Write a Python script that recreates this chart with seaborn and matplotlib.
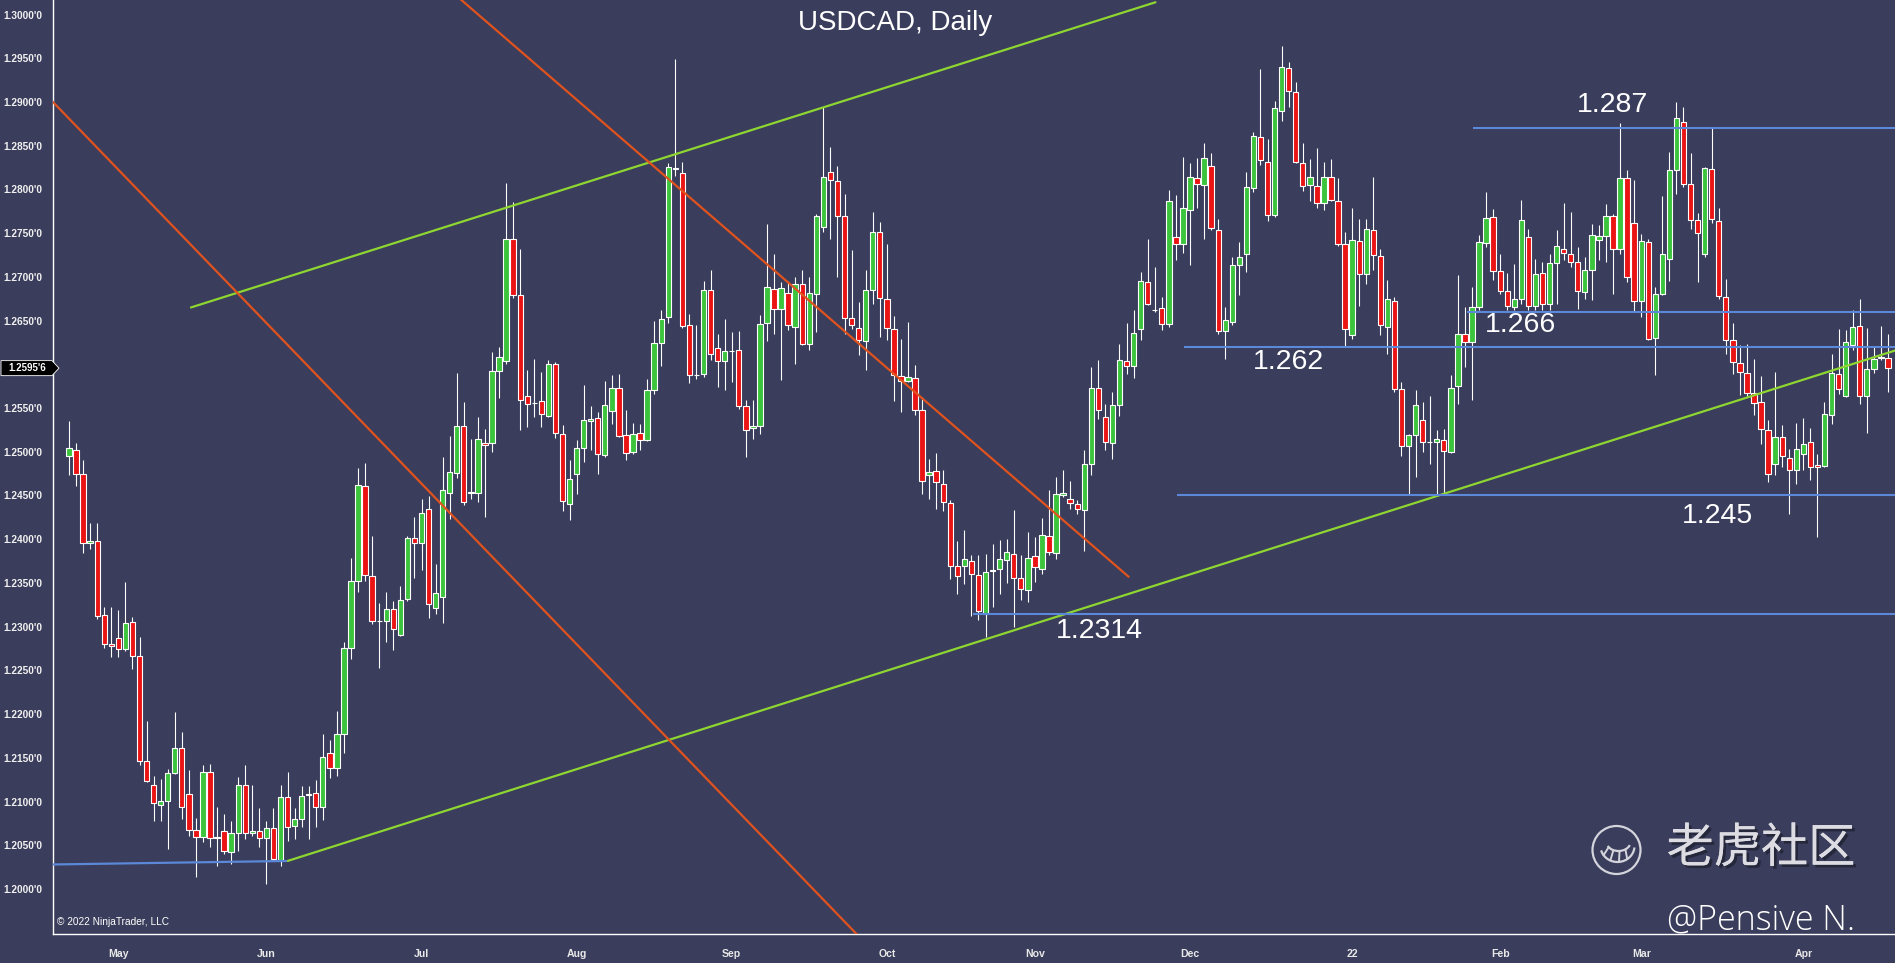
import numpy as np
import pandas as pd
import matplotlib
matplotlib.use("Agg")
import matplotlib.pyplot as plt
import matplotlib.patheffects as pe
from matplotlib.patches import Polygon, Circle, Arc
from matplotlib.transforms import blended_transform_factory, IdentityTransform
import seaborn as sns

# ---------------------------------------------------------------- data
symbol_title = "USDCAD, Daily"
first_session = "2021-04-22"

open_ = [
    1.24955, 1.25023, 1.24749, 1.23960, 1.23982, 1.23135, 1.22799, 1.22872, 1.22746, 1.23051,
    1.22666, 1.21464, 1.21189, 1.20960, 1.21010, 1.21327, 1.21613, 1.21086, 1.20674, 1.20598,
    1.21342, 1.20583, 1.20667, 1.20422, 1.20636, 1.21189, 1.20636, 1.20659, 1.20583, 1.20697,
    1.20331, 1.21048, 1.20718, 1.20798, 1.21075, 1.21097, 1.20937, 1.21560, 1.21384, 1.21773,
    1.22759, 1.23521, 1.24608, 1.23574, 1.23062, 1.23062, 1.23201, 1.22903, 1.23318, 1.24016,
    1.23958, 1.24347, 1.23212, 1.23340, 1.24533, 1.24757, 1.25290, 1.24533, 1.24533, 1.25103,
    1.25103, 1.25918, 1.26036, 1.27437, 1.26798, 1.25638, 1.25556, 1.25581, 1.25409, 1.26008,
    1.25207, 1.24406, 1.24741, 1.25047, 1.25348, 1.25390, 1.24959, 1.25466, 1.25733, 1.25188,
    1.24997, 1.25214, 1.25130, 1.25710, 1.26248, 1.26542, 1.28247, 1.28190, 1.26454, 1.25874,
    1.25893, 1.26855, 1.26191, 1.26038, 1.26153, 1.26168, 1.25520, 1.25272, 1.25290, 1.26477,
    1.26862, 1.26637, 1.26816, 1.26427, 1.26915, 1.26236, 1.26809, 1.27572, 1.28201, 1.28098,
    1.27701, 1.26530, 1.26416, 1.26267, 1.26847, 1.27518, 1.26751, 1.26404, 1.25866, 1.25809,
    1.25847, 1.25481, 1.24737, 1.24779, 1.24634, 1.24417, 1.23688, 1.23699, 1.23749, 1.23593,
    1.23146, 1.23635, 1.23661, 1.23757, 1.23825, 1.23558, 1.23421, 1.23802, 1.23661, 1.24031,
    1.23841, 1.24501, 1.24462, 1.24405, 1.24337, 1.24863, 1.25729, 1.25397, 1.25100, 1.25538,
    1.26038, 1.25977, 1.26408, 1.26942, 1.26618, 1.26648, 1.26458, 1.27457, 1.27381, 1.27770,
    1.28132, 1.28049, 1.28266, 1.27541, 1.26378, 1.26484, 1.27133, 1.27267, 1.28011, 1.28602,
    1.28316, 1.27706, 1.28900, 1.29384, 1.29117, 1.28305, 1.28049, 1.28038, 1.27839, 1.28144,
    1.27870, 1.27374, 1.26332, 1.27412, 1.27031, 1.27534, 1.27236, 1.26428, 1.26725, 1.25722,
    1.25062, 1.25188, 1.25360, 1.25111, 1.25111, 1.25138, 1.24997, 1.25749, 1.26344, 1.26255,
    1.26656, 1.27392, 1.27686, 1.27064, 1.26839, 1.26656, 1.26751, 1.27457, 1.26663, 1.27045,
    1.26686, 1.27159, 1.27323, 1.27259, 1.27171, 1.26827, 1.27083, 1.27426, 1.27465, 1.27693,
    1.27323, 1.28125, 1.27617, 1.26721, 1.27400, 1.26305, 1.26808, 1.27209, 1.28220, 1.28773,
    1.28067, 1.27649, 1.27259, 1.28228, 1.27641, 1.26771, 1.26275, 1.26016, 1.25901, 1.25672,
    1.25569, 1.25245, 1.24856, 1.25169, 1.24932, 1.24787, 1.24978, 1.25112, 1.24845, 1.24833,
    1.25417, 1.25894, 1.25634, 1.26218, 1.26435, 1.25634, 1.25951, 1.26073, 1.26077,
]
high = [
    1.25351, 1.25100, 1.24901, 1.24184, 1.24184, 1.23223, 1.23223, 1.23185, 1.23516, 1.23108,
    1.22879, 1.21926, 1.21296, 1.21258, 1.21372, 1.22029, 1.21792, 1.21361, 1.20808, 1.21422,
    1.21430, 1.20941, 1.20857, 1.20781, 1.21277, 1.21422, 1.21193, 1.20926, 1.20773, 1.20926,
    1.21193, 1.21334, 1.20921, 1.21177, 1.21177, 1.21251, 1.21773, 1.21709, 1.22040, 1.22828,
    1.23787, 1.24810, 1.24874, 1.24032, 1.23265, 1.23398, 1.23292, 1.23462, 1.24032, 1.24251,
    1.24458, 1.24490, 1.23718, 1.24943, 1.25183, 1.25902, 1.25567, 1.25140, 1.25396, 1.25263,
    1.26142, 1.26195, 1.28071, 1.27858, 1.27313, 1.25939, 1.26065, 1.25913, 1.26046, 1.26027,
    1.25302, 1.24909, 1.25138, 1.25760, 1.25520, 1.25455, 1.25810, 1.25874, 1.25886, 1.25481,
    1.25329, 1.25321, 1.25836, 1.26496, 1.26618, 1.28305, 1.29487, 1.28316, 1.26580, 1.26447,
    1.26954, 1.27076, 1.26351, 1.26523, 1.26370, 1.26378, 1.25588, 1.25596, 1.26561, 1.27610,
    1.27266, 1.26942, 1.26942, 1.27000, 1.27083, 1.27000, 1.27724, 1.28940, 1.28487, 1.28266,
    1.27953, 1.27305, 1.26713, 1.27076, 1.27743, 1.27629, 1.27381, 1.26549, 1.26294, 1.26484,
    1.25988, 1.25626, 1.24920, 1.24985, 1.24794, 1.24451, 1.23978, 1.24100, 1.23814, 1.23814,
    1.23833, 1.23947, 1.23986, 1.24005, 1.24329, 1.23814, 1.24081, 1.24024, 1.24245, 1.24565,
    1.24710, 1.24794, 1.24665, 1.24443, 1.25023, 1.25969, 1.26046, 1.25550, 1.25683, 1.26229,
    1.26473, 1.26618, 1.27057, 1.27438, 1.27114, 1.26771, 1.27991, 1.27934, 1.28373, 1.28304,
    1.28354, 1.28533, 1.28419, 1.27667, 1.26656, 1.27228, 1.27401, 1.28202, 1.28659, 1.29373,
    1.28572, 1.29014, 1.29640, 1.29461, 1.29232, 1.28526, 1.28343, 1.28469, 1.28316, 1.28343,
    1.28125, 1.27515, 1.27782, 1.27656, 1.27667, 1.28144, 1.27313, 1.26969, 1.26771, 1.25798,
    1.25207, 1.25703, 1.25569, 1.25634, 1.25245, 1.25264, 1.25875, 1.27019, 1.26657, 1.26885,
    1.27476, 1.27972, 1.27781, 1.27266, 1.27045, 1.27144, 1.27877, 1.27552, 1.27209, 1.27171,
    1.27266, 1.27533, 1.27839, 1.27743, 1.27343, 1.27228, 1.27602, 1.27590, 1.27831, 1.27724,
    1.28762, 1.28220, 1.28106, 1.27495, 1.27438, 1.26885, 1.27922, 1.28430, 1.29002, 1.28945,
    1.28411, 1.27725, 1.28259, 1.28709, 1.27782, 1.26981, 1.26474, 1.26218, 1.26237, 1.26065,
    1.25863, 1.25360, 1.25913, 1.25302, 1.25035, 1.25329, 1.25390, 1.25276, 1.24978, 1.25569,
    1.26115, 1.26409, 1.26397, 1.26619, 1.26752, 1.26420, 1.26199, 1.26435, 1.26352,
]
low = [
    1.24730, 1.24604, 1.23841, 1.23890, 1.23089, 1.22757, 1.22658, 1.22658, 1.22727, 1.22517,
    1.21422, 1.21220, 1.20781, 1.20781, 1.20457, 1.21315, 1.20800, 1.20609, 1.20133, 1.20533,
    1.20476, 1.20266, 1.20400, 1.20285, 1.20438, 1.20571, 1.20609, 1.20476, 1.20056, 1.20323,
    1.20266, 1.20548, 1.20574, 1.20708, 1.20574, 1.20708, 1.20787, 1.21267, 1.21294, 1.21560,
    1.22626, 1.23398, 1.23521, 1.23025, 1.22530, 1.22828, 1.22732, 1.22892, 1.23292, 1.23553,
    1.23649, 1.23095, 1.23148, 1.23041, 1.24235, 1.24704, 1.24394, 1.24464, 1.24426, 1.24251,
    1.24997, 1.25609, 1.26009, 1.26755, 1.25253, 1.25283, 1.25398, 1.25283, 1.25398, 1.25161,
    1.24322, 1.24215, 1.24520, 1.24882, 1.25016, 1.24749, 1.24940, 1.25321, 1.25169, 1.24902,
    1.24978, 1.25024, 1.25123, 1.25665, 1.25977, 1.26473, 1.28152, 1.26420, 1.25787, 1.25836,
    1.25855, 1.26054, 1.25741, 1.25703, 1.25798, 1.25493, 1.24940, 1.25150, 1.25206, 1.26267,
    1.26343, 1.25824, 1.26389, 1.26008, 1.26217, 1.26160, 1.26370, 1.27514, 1.27438, 1.27000,
    1.26351, 1.26408, 1.26103, 1.25931, 1.26694, 1.26313, 1.26275, 1.25580, 1.25454, 1.25798,
    1.25416, 1.24520, 1.24462, 1.24348, 1.24321, 1.23547, 1.23368, 1.23490, 1.23127, 1.23078,
    1.22879, 1.23223, 1.23375, 1.23497, 1.22994, 1.23299, 1.23280, 1.23509, 1.23604, 1.23814,
    1.23776, 1.24482, 1.24348, 1.24291, 1.23864, 1.24730, 1.25378, 1.25016, 1.24920, 1.25405,
    1.25893, 1.25847, 1.26275, 1.26675, 1.26599, 1.26397, 1.26427, 1.27198, 1.27274, 1.27133,
    1.27793, 1.27438, 1.27534, 1.26343, 1.26065, 1.26446, 1.26790, 1.27057, 1.27973, 1.28278,
    1.27641, 1.27679, 1.28785, 1.28946, 1.28305, 1.27984, 1.27870, 1.27793, 1.27770, 1.27870,
    1.27351, 1.26199, 1.26294, 1.26664, 1.26916, 1.27076, 1.26332, 1.26115, 1.25684, 1.24947,
    1.24520, 1.24711, 1.24997, 1.24863, 1.24512, 1.24520, 1.24986, 1.25543, 1.25970, 1.25595,
    1.26618, 1.27343, 1.26961, 1.26808, 1.26625, 1.26618, 1.26694, 1.26618, 1.26625, 1.26618,
    1.26625, 1.26694, 1.27190, 1.27114, 1.26637, 1.26751, 1.26732, 1.27190, 1.27171, 1.26808,
    1.27266, 1.26942, 1.26599, 1.26541, 1.26274, 1.25874, 1.26789, 1.26953, 1.27953, 1.28029,
    1.27552, 1.26943, 1.27229, 1.27618, 1.26741, 1.26123, 1.25886, 1.25646, 1.25634, 1.25417,
    1.25093, 1.24654, 1.24730, 1.24826, 1.24291, 1.24635, 1.24787, 1.24673, 1.24024, 1.24826,
    1.25321, 1.25665, 1.25627, 1.26168, 1.25550, 1.25215, 1.25901, 1.26046, 1.25684,
]
close = [
    1.25042, 1.24749, 1.23959, 1.23980, 1.23120, 1.22803, 1.22784, 1.22746, 1.23043, 1.22666,
    1.21464, 1.21235, 1.20983, 1.21010, 1.21327, 1.21613, 1.20941, 1.20678, 1.20598, 1.21342,
    1.20583, 1.20590, 1.20438, 1.20636, 1.21189, 1.20636, 1.20667, 1.20583, 1.20693, 1.20343,
    1.21048, 1.20705, 1.20798, 1.21065, 1.21086, 1.20937, 1.21507, 1.21384, 1.21773, 1.22759,
    1.23521, 1.24624, 1.23585, 1.23062, 1.23067, 1.23201, 1.22972, 1.23308, 1.24016, 1.23958,
    1.24299, 1.23254, 1.23382, 1.24565, 1.24768, 1.25300, 1.24426, 1.24540, 1.25140, 1.25076,
    1.25918, 1.26089, 1.27437, 1.26792, 1.25588, 1.25543, 1.25560, 1.25428, 1.26008, 1.25218,
    1.24432, 1.24692, 1.25047, 1.25359, 1.25378, 1.24978, 1.25531, 1.25733, 1.25176, 1.24989,
    1.25199, 1.25138, 1.25703, 1.26248, 1.26523, 1.28259, 1.28228, 1.26443, 1.25874, 1.25880,
    1.26855, 1.26115, 1.26038, 1.26153, 1.26150, 1.25520, 1.25253, 1.25291, 1.26465, 1.26885,
    1.26637, 1.26873, 1.26446, 1.26915, 1.26236, 1.26816, 1.27701, 1.28144, 1.28106, 1.27701,
    1.26534, 1.26446, 1.26282, 1.26854, 1.27518, 1.26763, 1.26420, 1.25874, 1.25809, 1.25855,
    1.25481, 1.24661, 1.24768, 1.24653, 1.24424, 1.23699, 1.23574, 1.23768, 1.23604, 1.23177,
    1.23623, 1.23650, 1.23768, 1.23852, 1.23558, 1.23432, 1.23787, 1.23680, 1.24043, 1.23852,
    1.24520, 1.24531, 1.24417, 1.24348, 1.24863, 1.25729, 1.25481, 1.25111, 1.25538, 1.26053,
    1.25977, 1.26362, 1.26954, 1.26694, 1.26622, 1.26465, 1.27869, 1.27381, 1.27782, 1.28144,
    1.28060, 1.28354, 1.27553, 1.26378, 1.26503, 1.27133, 1.27229, 1.28022, 1.28610, 1.28335,
    1.27706, 1.28926, 1.29396, 1.29129, 1.28316, 1.28038, 1.28144, 1.27839, 1.28144, 1.27877,
    1.27381, 1.26409, 1.27427, 1.27038, 1.27545, 1.27248, 1.26447, 1.26752, 1.25722, 1.25062,
    1.25188, 1.25531, 1.25111, 1.25115, 1.25150, 1.25009, 1.25733, 1.26351, 1.26256, 1.26656,
    1.27400, 1.27674, 1.27064, 1.26839, 1.26663, 1.26751, 1.27648, 1.26663, 1.27037, 1.26686,
    1.27159, 1.27350, 1.27274, 1.27171, 1.26839, 1.27075, 1.27476, 1.27465, 1.27693, 1.27323,
    1.28125, 1.27000, 1.26721, 1.27411, 1.26293, 1.26808, 1.27259, 1.28220, 1.28811, 1.28067,
    1.27648, 1.27496, 1.28240, 1.27656, 1.26779, 1.26275, 1.26027, 1.25913, 1.25672, 1.25558,
    1.25264, 1.24749, 1.25169, 1.24948, 1.24787, 1.25035, 1.25093, 1.24826, 1.24826, 1.25428,
    1.25901, 1.25722, 1.26256, 1.26428, 1.25634, 1.25951, 1.26065, 1.26078, 1.25956,
]

# drawn trend lines: (bar index, price) end points
upper_channel_x = [17.3, 154.1]
upper_channel_y = [1.2665, 1.3014]
lower_channel_x = [31.0, 259.5]
lower_channel_y = [1.2032, 1.2617]
falling_line1_x = [-3.0, 115.0]
falling_line1_y = [1.2906, 1.1921]
falling_line2_x = [50.0, 150.3]
falling_line2_y = [1.3056, 1.2357]
base_line_x = [-2.3, 30.8]
base_line_y = [1.2028, 1.2032]

# horizontal levels with their labels
level_values = [1.287, 1.266, 1.262, 1.245, 1.2314]
level_starts = [199.1, 198.3, 158.2, 157.2, 128.2]
level_labels = ["1.287", "1.266", "1.262", "1.245", "1.2314"]
label_x = [218.9, 205.9, 172.9, 233.8, 146.1]
label_y = [1.2896, 1.2645, 1.2603, 1.2427, 1.2295]

y_ticks = np.arange(1.2000, 1.30001, 0.005)

# ---------------------------------------------------------------- style
BG = "#3a3d5b"
UP = "#3dc43d"
DOWN = "#ea1414"
BLUE = "#5b88d8"
LIME = "#8ed631"
ORANGE = "#e0521e"
FG = "#ffffff"

sns.set_theme(style="dark", rc={
    "axes.facecolor": BG,
    "figure.facecolor": BG,
    "axes.grid": False,
    "axes.edgecolor": FG,
})
plt.rcParams["font.family"] = ["Liberation Sans", "Noto Sans CJK SC", "DejaVu Sans"]

W, H = 1895, 963
fig = plt.figure(figsize=(W / 100, H / 100), dpi=100)
ax = fig.add_axes([53 / W, 29 / H, (W - 53) / W, (H - 29) / H])
ax.set_facecolor(BG)

o = np.array(open_)
h = np.array(high)
lo = np.array(low)
c = np.array(close)
n = len(c)
idx = np.arange(n)
dates = pd.bdate_range(first_session, periods=n)
last = c[-1]

# ---------------------------------------------------------------- candles
ax.vlines(idx, lo, h, color=FG, lw=0.8, zorder=2)
body_bottom = np.minimum(o, c)
body_height = np.maximum(np.abs(c - o), 1e-5)
colors = np.where(c >= o, UP, DOWN)
ax.bar(idx, body_height, bottom=body_bottom, width=0.76, color=colors,
       edgecolor=FG, linewidth=0.8, zorder=3)

# ---------------------------------------------------------------- trend lines
for xs, ys, col in [
    (upper_channel_x, upper_channel_y, LIME),
    (lower_channel_x, lower_channel_y, LIME),
    (falling_line1_x, falling_line1_y, ORANGE),
    (falling_line2_x, falling_line2_y, ORANGE),
    (base_line_x, base_line_y, BLUE),
]:
    sns.lineplot(x=xs, y=ys, ax=ax, color=col, lw=1.6, zorder=4)

xmax = 259.0
ax.hlines(level_values, level_starts, xmax + 1, color=BLUE, lw=1.5, zorder=4)
for txt, lx, ly in zip(level_labels, label_x, label_y):
    ax.text(lx, ly, txt, color=FG, fontsize=20.5, ha="center", va="center", zorder=6)

ax.set_xlim(-2.27, xmax)
ax.set_ylim(1.19485, 1.30166)

# ---------------------------------------------------------------- axes
month_pos = [i for i in range(1, n) if dates[i].month != dates[i - 1].month]
month_lab = [dates[i].strftime("%y") if dates[i].month == 1 else dates[i].strftime("%b")
             for i in month_pos]
ax.set_xticks(month_pos)
ax.set_xticklabels(month_lab)
ax.set_yticks(y_ticks)
# the price tag hides the grid label it sits on
ax.set_yticklabels(["" if abs(v - last) < 0.002 else f"{v:.4f}'0" for v in y_ticks])
ax.tick_params(axis="x", colors=FG, direction="out", length=4, width=0.8, pad=7,
               labelsize=7.6, labelcolor="#e8e8e8")
ax.tick_params(axis="y", colors=FG, direction="out", length=5, width=0.8, pad=2.5,
               labelsize=7.3, labelcolor="#f0f0f0")
for lab in ax.get_xticklabels() + ax.get_yticklabels():
    lab.set_fontweight("bold")
ax.set_xlabel("")
ax.set_ylabel("")
for side in ["top", "right"]:
    ax.spines[side].set_visible(False)
for side in ["left", "bottom"]:
    ax.spines[side].set_color(FG)
    ax.spines[side].set_linewidth(1.0)

# last price tag on the price axis
tr = blended_transform_factory(IdentityTransform(), ax.transData)
hh = 7.5 / 8738
tag = Polygon([(1, last - hh), (52, last - hh), (59, last), (52, last + hh), (1, last + hh)],
              closed=True, transform=tr, facecolor="black", edgecolor=FG, lw=0.6,
              clip_on=False, zorder=10)
ax.add_artist(tag)
s = f"{last:.5f}"
ax.text(27, last, s[:-1] + "'" + s[-1], transform=tr, color=FG, fontsize=7,
        fontweight="bold", ha="center", va="center", clip_on=False, zorder=11)

# ---------------------------------------------------------------- figure texts
fig.text(895.5 / W, 1 - 22.5 / H, symbol_title, color=FG, fontsize=20,
         ha="center", va="center")
fig.text(57 / W, 1 - 922 / H, "\u00a9 2022 NinjaTrader, LLC", color=FG, fontsize=7.3,
         ha="left", va="center")

wm = fig.text(1761 / W, 1 - 849 / H, "老虎社区", color="#dcdce2", fontsize=34,
              ha="center", va="center", family=["Noto Sans CJK SC", "DejaVu Sans"])
wm.set_path_effects([pe.withSimplePatchShadow(offset=(2, -2), shadow_rgbFace="black",
                                              alpha=0.35), pe.Normal()])
fig.text(1761 / W, 1 - 920 / H, "@Pensive N.", color=FG, fontsize=24.5,
         ha="center", va="center", family=["Open Sans", "DejaVu Sans"], fontweight="light")

# tiger logo next to the watermark
cx, cy = 1616.5, H - 850
logo_col = "#d4d4dc"
fig.add_artist(Circle((cx, cy), 24, transform=IdentityTransform(), fill=False,
                      edgecolor=logo_col, lw=1.6))
fig.add_artist(Arc((cx + 1, cy + 4), 34, 32, theta1=195, theta2=355,
                   transform=IdentityTransform(), edgecolor=logo_col, lw=1.6))
fig.add_artist(Arc((cx + 2, cy + 8), 24, 18, theta1=200, theta2=345,
                   transform=IdentityTransform(), edgecolor=logo_col, lw=1.6))
for ang in [215, 245, 275, 305]:
    a = np.deg2rad(ang)
    x1, y1 = cx + 1 + 17 * np.cos(a), cy + 4 + 16 * np.sin(a)
    x2, y2 = cx + 2 + 12 * np.cos(a), cy + 8 + 9 * np.sin(a)
    fig.add_artist(plt.Line2D([x1, x2], [y1, y2], transform=IdentityTransform(),
                              color=logo_col, lw=1.4))

fig.savefig("out.png", dpi=100, facecolor=BG)
